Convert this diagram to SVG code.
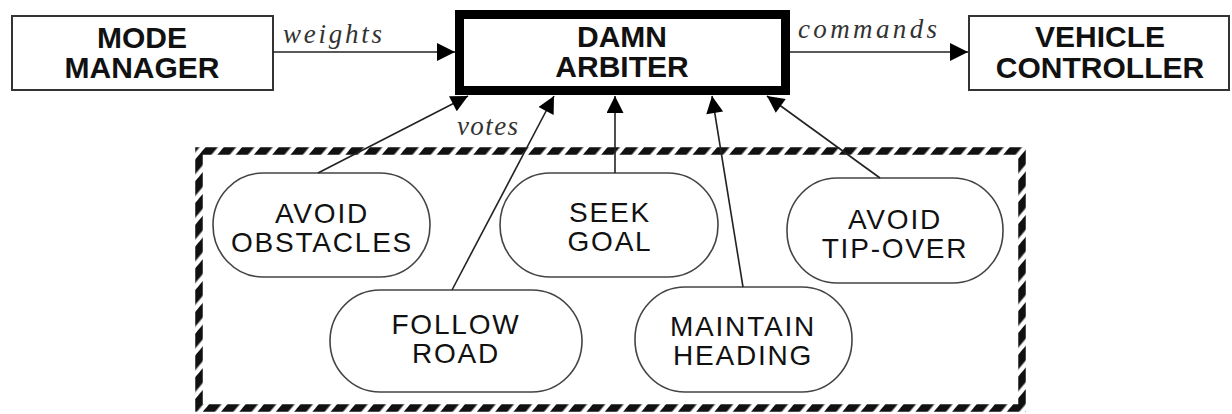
<svg xmlns="http://www.w3.org/2000/svg" width="1232" height="414" viewBox="0 0 1232 414">
  <style>
    .box { fill: #fff; stroke: #333; stroke-width: 2; }
    .arb { fill: #fff; stroke: #000; stroke-width: 9; }
    .beh { fill: #fff; stroke: #444; stroke-width: 1.6; }
    .bold { font-family: "Liberation Sans", Arial, sans-serif; font-weight: bold; font-size: 30px; fill: #111; text-anchor: middle; }
    .reg { font-family: "Liberation Sans", Arial, sans-serif; font-size: 28px; fill: #111; text-anchor: middle; letter-spacing: 1.8px; }
    .lbl { font-family: "Liberation Serif", "Times New Roman", serif; font-style: italic; font-size: 27px; fill: #333; }
    .conn { stroke: #222; stroke-width: 1.6; fill: none; }
  </style>
  <defs>
    <marker id="ahBig" viewBox="0 0 10 10" refX="10" refY="5" markerUnits="userSpaceOnUse" markerWidth="29" markerHeight="18" orient="auto">
      <path d="M0,0 L10,5 L0,10 z" fill="#000"/>
    </marker>
    <marker id="ah" viewBox="0 0 10 10" refX="10" refY="5" markerUnits="userSpaceOnUse" markerWidth="26" markerHeight="17" orient="auto">
      <path d="M0,0 L10,5 L0,10 z" fill="#000"/>
    </marker>
    <pattern id="hatch" patternUnits="userSpaceOnUse" width="14" height="10" patternTransform="rotate(40)">
      <rect x="0" y="0" width="9.5" height="10" fill="#111"/>
    </pattern>
  </defs>

  <rect width="1232" height="414" fill="#fff"/>

  <g id="behaviors-group">
    <rect x="199" y="151" width="823" height="257" fill="none" stroke="url(#hatch)" stroke-width="7.5"/>
  </g>

  <g id="mode-manager">
    <rect class="box" x="12" y="16" width="261" height="74"/>
    <text class="bold" x="142" y="48">MODE</text>
    <text class="bold" x="142" y="78">MANAGER</text>
  </g>

  <g id="damn-arbiter">
    <rect class="arb" x="459.5" y="14.5" width="326" height="76"/>
    <text class="bold" x="622" y="47">DAMN</text>
    <text class="bold" x="622" y="77">ARBITER</text>
  </g>

  <g id="vehicle-controller">
    <rect class="box" x="969" y="16" width="260" height="74"/>
    <text class="bold" x="1100" y="47">VEHICLE</text>
    <text class="bold" x="1100" y="78">CONTROLLER</text>
  </g>

  <g id="avoid-obstacles">
    <rect class="beh" x="213" y="173" width="217" height="104" rx="50" ry="52"/>
    <text class="reg" x="322" y="223">AVOID</text>
    <text class="reg" x="322" y="252">OBSTACLES</text>
  </g>

  <g id="seek-goal">
    <rect class="beh" x="500" y="173" width="218" height="104" rx="50" ry="52"/>
    <text class="reg" x="610" y="222">SEEK</text>
    <text class="reg" x="610" y="251">GOAL</text>
  </g>

  <g id="avoid-tip-over">
    <rect class="beh" x="787" y="178" width="216" height="105" rx="50" ry="52"/>
    <text class="reg" x="895" y="229">AVOID</text>
    <text class="reg" x="895" y="258">TIP-OVER</text>
  </g>

  <g id="follow-road">
    <rect class="beh" x="330" y="290" width="252" height="102" rx="50" ry="51"/>
    <text class="reg" x="456" y="334">FOLLOW</text>
    <text class="reg" x="456" y="363">ROAD</text>
  </g>

  <g id="maintain-heading">
    <rect class="beh" x="635" y="287" width="217" height="105" rx="50" ry="52"/>
    <text class="reg" x="743" y="336">MAINTAIN</text>
    <text class="reg" x="743" y="365">HEADING</text>
  </g>

  <g id="connectors">
    <line class="conn" x1="273" y1="52" x2="455" y2="52" marker-end="url(#ahBig)"/>
    <line class="conn" x1="790" y1="52" x2="968" y2="52" marker-end="url(#ahBig)"/>
    <line class="conn" x1="318" y1="173" x2="468" y2="96" marker-end="url(#ah)"/>
    <line class="conn" x1="452" y1="290" x2="554" y2="96" marker-end="url(#ah)"/>
    <line class="conn" x1="615" y1="173" x2="615" y2="96" marker-end="url(#ah)"/>
    <line class="conn" x1="743" y1="287" x2="712" y2="96" marker-end="url(#ah)"/>
    <line class="conn" x1="880" y1="178" x2="767" y2="96" marker-end="url(#ah)"/>
    <text class="lbl" x="283" y="43" textLength="99" lengthAdjust="spacing">weights</text>
    <text class="lbl" x="798" y="38" textLength="139" lengthAdjust="spacing">commands</text>
    <text class="lbl" x="457" y="135" textLength="61" lengthAdjust="spacing">votes</text>
  </g>
</svg>
